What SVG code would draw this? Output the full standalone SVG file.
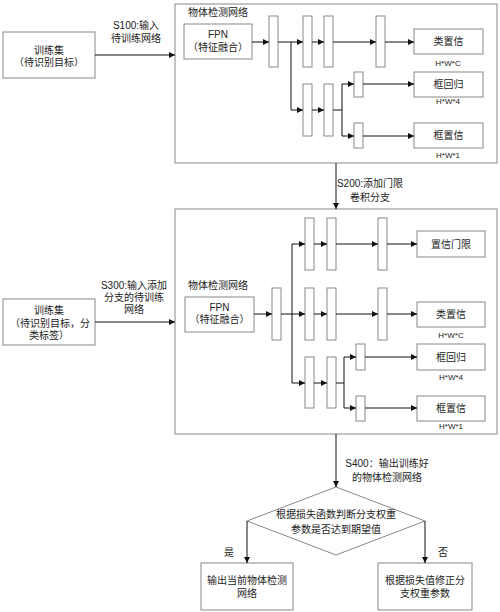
<svg xmlns="http://www.w3.org/2000/svg" width="500" height="612" viewBox="0 0 500 612">
<style>
text{font-family:"Liberation Sans","Noto Sans CJK SC",sans-serif;font-size:10px;fill:#222;text-anchor:middle}
.sm{font-size:8px}
.box{fill:#fff;stroke:#888;stroke-width:1}
.bar{fill:#fff;stroke:#888;stroke-width:1}
.ln{fill:none;stroke:#111;stroke-width:1}
.ar{fill:none;stroke:#111;stroke-width:1;marker-end:url(#ah)}
</style>
<defs>
<marker id="ah" viewBox="0 0 10 10" refX="10" refY="5" markerWidth="6" markerHeight="6" markerUnits="userSpaceOnUse" orient="auto">
<path d="M0,0 L10,5 L0,10 z" fill="#111"/>
</marker>
</defs>
<rect width="500" height="612" fill="#fff"/>

<!-- Top section -->
<g id="train-set-1"><rect class="box" x="3" y="32" width="92" height="46"/><text x="49" y="54">训练集</text><text x="49" y="66">（待识别目标）</text></g>
<g id="net-1"><rect class="box" x="175" y="4" width="322" height="159"/><text x="218" y="16">物体检测网络</text></g>
<g id="fpn-1"><rect class="box" x="184" y="24" width="68" height="35"/><text x="218" y="38">FPN</text><text x="218" y="51">（特征融合）</text></g>
<g id="bars-1">
<rect class="bar" x="269" y="16" width="9" height="51"/>
<rect class="bar" x="303" y="16" width="9" height="51"/>
<rect class="bar" x="324" y="16" width="9" height="51"/>
<rect class="bar" x="376" y="16" width="9" height="51"/>
<rect class="bar" x="303" y="84" width="9" height="52"/>
<rect class="bar" x="324" y="84" width="9" height="52"/>
<rect class="bar" x="354" y="72" width="9" height="25"/>
<rect class="bar" x="354" y="123" width="9" height="25"/>
</g>
<g id="cls-1"><rect class="box" x="414" y="29" width="69" height="25"/><text x="448.5" y="45">类置信</text><text class="sm" x="448" y="66">H*W*C</text></g>
<g id="reg-1"><rect class="box" x="414" y="72" width="69" height="25"/><text x="448.5" y="88">框回归</text><text class="sm" x="448" y="104">H*W*4</text></g>
<g id="conf-1"><rect class="box" x="414" y="123" width="69" height="25"/><text x="448.5" y="139">框置信</text><text class="sm" x="448" y="158">H*W*1</text></g>

<!-- Middle section -->
<g id="train-set-2"><rect class="box" x="3" y="299" width="92" height="46"/><text x="49" y="314">训练集</text><text x="50" y="327">（待识别目标，分</text><text x="49" y="339">类标签）</text></g>
<g id="net-2"><rect class="box" x="175" y="209" width="322" height="225"/><text x="218" y="289">物体检测网络</text></g>
<g id="fpn-2"><rect class="box" x="185" y="297" width="69" height="35"/><text x="219.5" y="311">FPN</text><text x="219.5" y="323">（特征融合）</text></g>
<g id="bars-2">
<rect class="bar" x="272" y="288" width="9" height="52"/>
<rect class="bar" x="305" y="218" width="9" height="52"/>
<rect class="bar" x="327" y="218" width="9" height="52"/>
<rect class="bar" x="378" y="218" width="9" height="52"/>
<rect class="bar" x="305" y="288" width="9" height="52"/>
<rect class="bar" x="327" y="288" width="9" height="52"/>
<rect class="bar" x="378" y="288" width="9" height="52"/>
<rect class="bar" x="305" y="357" width="9" height="51"/>
<rect class="bar" x="327" y="357" width="9" height="51"/>
<rect class="bar" x="356" y="344" width="9" height="26"/>
<rect class="bar" x="356" y="396" width="9" height="25"/>
</g>
<g id="gate-2"><rect class="box" x="417" y="231" width="68" height="26"/><text x="451" y="248">置信门限</text></g>
<g id="cls-2"><rect class="box" x="417" y="302" width="68" height="25"/><text x="451" y="318">类置信</text><text class="sm" x="451" y="338">H*W*C</text></g>
<g id="reg-2"><rect class="box" x="417" y="344" width="68" height="26"/><text x="451" y="361">框回归</text><text class="sm" x="451" y="380">H*W*4</text></g>
<g id="conf-2"><rect class="box" x="417" y="396" width="68" height="25"/><text x="451" y="412">框置信</text><text class="sm" x="451" y="429">H*W*1</text></g>

<!-- Bottom section -->
<g id="decision"><path class="box" d="M336,487 L425,521 L336,555 L247,521 Z"/><text x="336" y="518">根据损失函数判断分支权重</text><text x="336" y="533">参数是否达到期望值</text></g>
<g id="out-net"><rect class="box" x="201" y="563" width="92" height="47"/><text x="247" y="584">输出当前物体检测</text><text x="247" y="597">网络</text></g>
<g id="fix-weights"><rect class="box" x="378" y="563" width="94" height="47"/><text x="425" y="584">根据损失值修正分</text><text x="425" y="597">支权重参数</text></g>

<g id="connectors">
<!-- top -->
<path class="ar" d="M95,55 H175"/>
<path class="ar" d="M252,42 H269"/>
<path class="ar" d="M278,42 H303"/>
<path class="ar" d="M312,42 H324"/>
<path class="ar" d="M333,42 H376"/>
<path class="ar" d="M385,42 H414"/>
<path class="ar" d="M291,42 V110 H303"/>
<path class="ar" d="M312,110 H324"/>
<path class="ln" d="M333,110 H342 M342,84 V136"/>
<path class="ar" d="M342,84 H354"/>
<path class="ar" d="M342,136 H354"/>
<path class="ar" d="M363,84 H414"/>
<path class="ar" d="M363,136 H414"/>
<path class="ar" d="M336,163 V209"/>
<!-- middle -->
<path class="ar" d="M95,322 H175"/>
<path class="ar" d="M254,314 H272"/>
<path class="ar" d="M281,314 H305"/>
<path class="ln" d="M292,244 V383"/>
<path class="ar" d="M292,244 H305"/>
<path class="ar" d="M314,244 H327"/>
<path class="ar" d="M336,244 H378"/>
<path class="ar" d="M387,244 H417"/>
<path class="ar" d="M314,314 H327"/>
<path class="ar" d="M336,314 H378"/>
<path class="ar" d="M387,314 H417"/>
<path class="ar" d="M292,383 H305"/>
<path class="ar" d="M314,383 H327"/>
<path class="ln" d="M336,383 H344 M344,357 V408"/>
<path class="ar" d="M344,357 H356"/>
<path class="ar" d="M344,408 H356"/>
<path class="ar" d="M365,357 H417"/>
<path class="ar" d="M365,408 H417"/>
<!-- bottom -->
<path class="ar" d="M336,434 V487"/>
<path class="ar" d="M247,521 V563"/>
<path class="ar" d="M425,521 V563"/>
</g>

<g id="labels">
<text x="136" y="29">S100:输入</text><text x="136" y="42">待训练网络</text>
<text x="370" y="187">S200:添加门限</text><text x="370" y="201">卷积分支</text>
<text x="134" y="289">S300:输入添加</text><text x="134" y="301">分支的待训练</text><text x="134" y="313">网络</text>
<text x="387" y="467">S400：输出训练好</text><text x="387" y="481">的物体检测网络</text>
<text x="229" y="556">是</text>
<text x="443" y="556">否</text>
</g>
</svg>
